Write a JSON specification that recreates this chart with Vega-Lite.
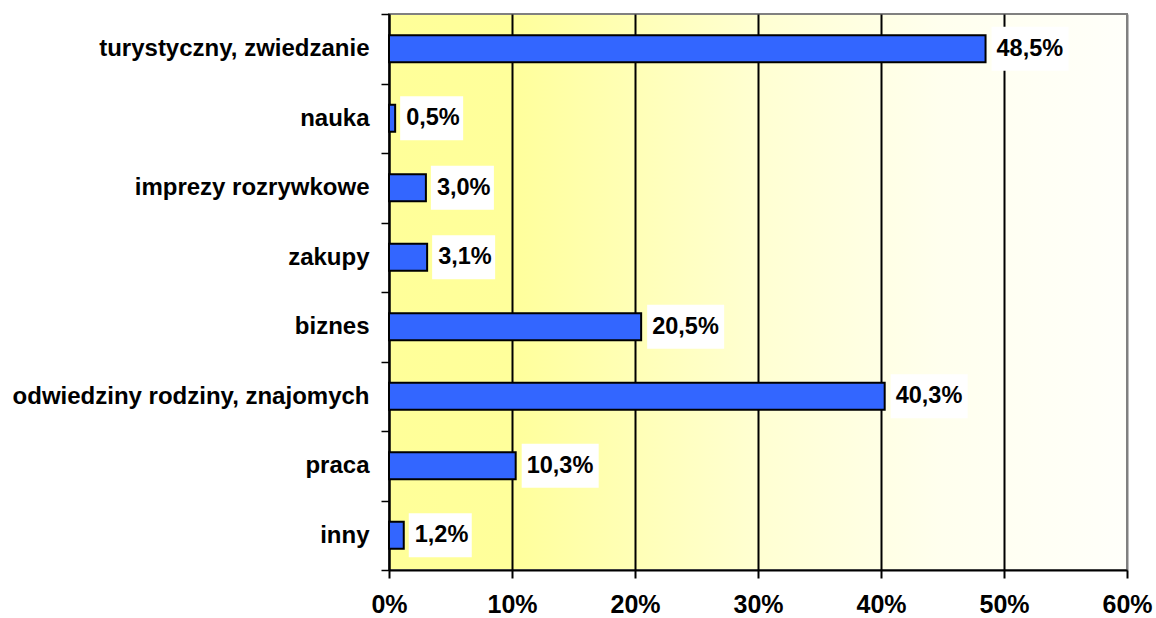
{
  "$schema": "https://vega.github.io/schema/vega-lite/v6.json",
  "autosize": "none",
  "width": 738,
  "height": 556,
  "padding": {"left": 389, "top": 14, "right": 29, "bottom": 48},
  "background": "white",
  "config": {
    "font": "Liberation Sans",
    "view": {
      "stroke": "#808080",
      "strokeWidth": 2,
      "fill": {
        "gradient": "linear", "x1": 0, "x2": 1, "y1": 0, "y2": 0,
        "stops": [
          {"offset": 0, "color": "#FFFF99"},
          {"offset": 0.166, "color": "#FFFF9B"},
          {"offset": 0.5, "color": "#FFFFD2"},
          {"offset": 0.75, "color": "#FFFFEE"},
          {"offset": 1, "color": "#FFFFFA"}
        ]
      }
    },
    "axisX": {
      "grid": true,
      "gridColor": {"condition": {"test": "datum.value == 60", "value": "#808080"}, "value": "black"},
      "gridWidth": 2,
      "gridOpacity": 1,
      "tickColor": "black",
      "tickWidth": 2,
      "tickSize": 8,
      "domainColor": "black",
      "domainWidth": 2,
      "labelFont": "Liberation Sans",
      "labelFontSize": 25,
      "labelFontWeight": "bold",
      "labelColor": "black",
      "labelPadding": 14,
      "labelFlush": false
    },
    "axisY": {
      "grid": false,
      "tickBand": "extent",
      "tickColor": "black",
      "tickWidth": 1.5,
      "tickSize": 8,
      "domainColor": "black",
      "domainWidth": 2,
      "labelFont": "Liberation Sans",
      "labelFontSize": 24,
      "labelFontWeight": "bold",
      "labelColor": "black",
      "labelPadding": 12,
      "labelLimit": 500
    }
  },
  "data": {
    "values": [
      {"cat": "turystyczny, zwiedzanie", "v": 48.5, "label": "48,5%"},
      {"cat": "nauka", "v": 0.5, "label": "0,5%"},
      {"cat": "imprezy rozrywkowe", "v": 3.0, "label": "3,0%"},
      {"cat": "zakupy", "v": 3.1, "label": "3,1%"},
      {"cat": "biznes", "v": 20.5, "label": "20,5%"},
      {"cat": "odwiedziny rodziny, znajomych", "v": 40.3, "label": "40,3%"},
      {"cat": "praca", "v": 10.3, "label": "10,3%"},
      {"cat": "inny", "v": 1.2, "label": "1,2%"}
    ]
  },
  "encoding": {
    "y": {"field": "cat", "type": "nominal", "sort": null, "title": null,
          "scale": {"paddingInner": 0, "paddingOuter": 0}}
  },
  "layer": [
    {
      "mark": {"type": "bar", "height": 27, "fill": "#3366FF", "stroke": "black", "strokeWidth": 2},
      "encoding": {
        "x": {"field": "v", "type": "quantitative", "title": null,
              "scale": {"domain": [0, 60], "nice": false},
              "axis": {"values": [0, 10, 20, 30, 40, 50, 60], "labelExpr": "datum.value + '%'"}}
      }
    },
    {
      "transform": [{"filter": "datum.v < 10"}],
      "mark": {"type": "bar", "height": 44, "fill": "white", "xOffset": 5, "x2Offset": 68},
      "encoding": {
        "x": {"field": "v", "type": "quantitative"},
        "x2": {"field": "v"}
      }
    },
    {
      "transform": [{"filter": "datum.v >= 10"}],
      "mark": {"type": "bar", "height": 44, "fill": "white", "xOffset": 6, "x2Offset": 83},
      "encoding": {
        "x": {"field": "v", "type": "quantitative"},
        "x2": {"field": "v"}
      }
    },
    {
      "mark": {"type": "text", "align": "left", "baseline": "middle", "dx": 11, "font": "Liberation Sans",
               "fontSize": 23.5, "fontWeight": "bold", "color": "black"},
      "encoding": {
        "x": {"field": "v", "type": "quantitative"},
        "text": {"field": "label"}
      }
    }
  ]
}
